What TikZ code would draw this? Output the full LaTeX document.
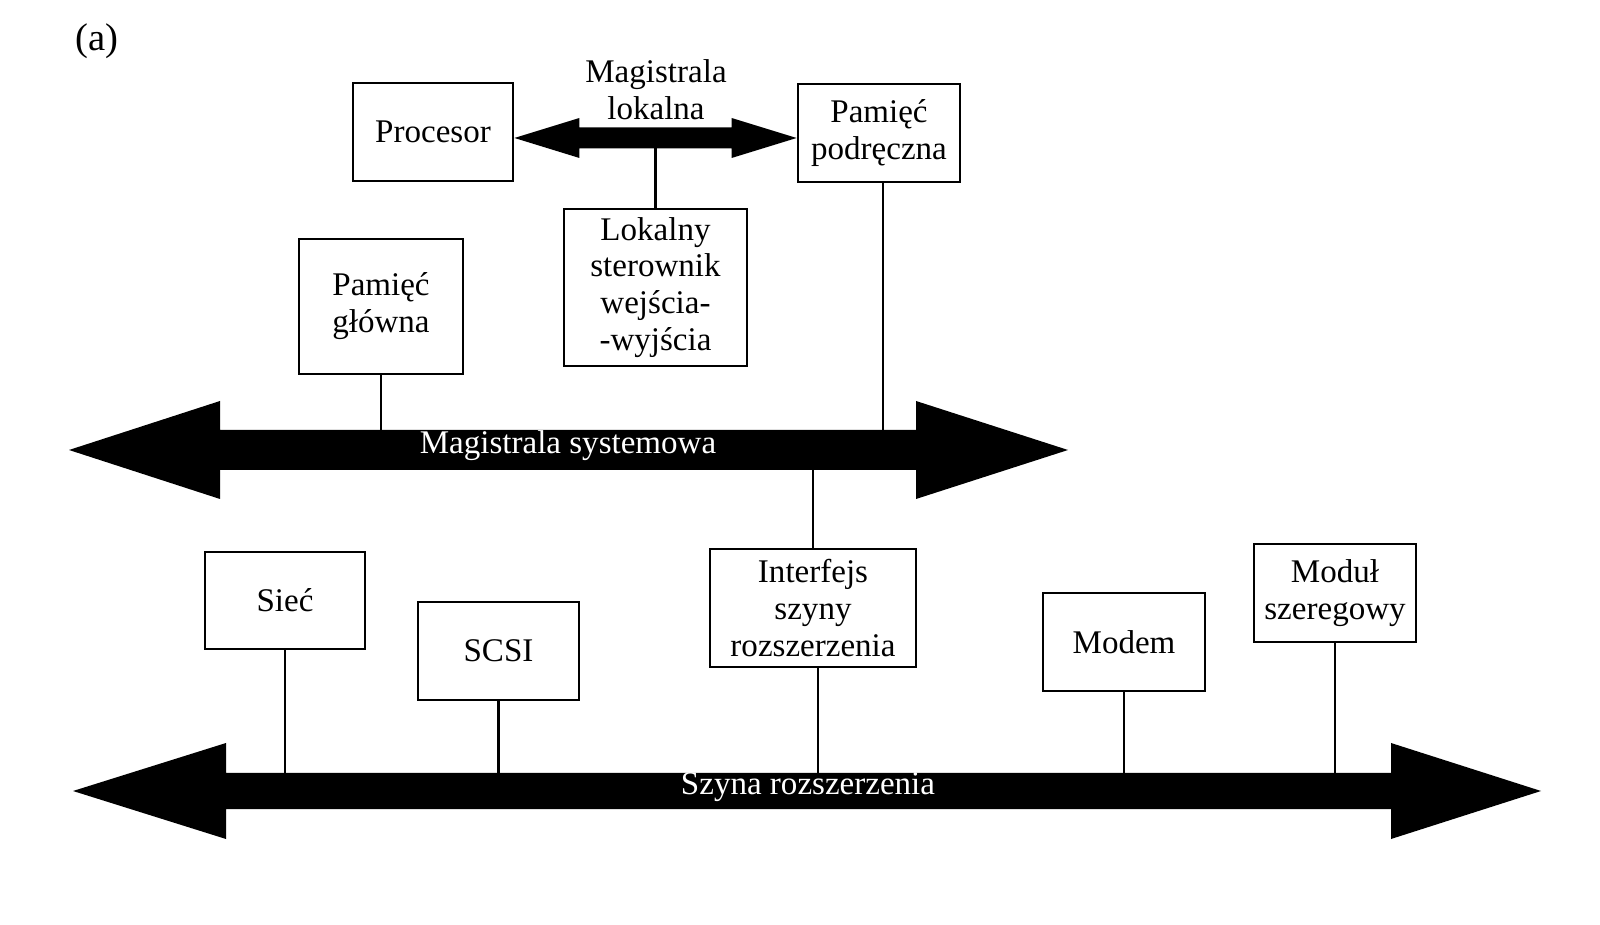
\documentclass[tikz,border=0pt]{standalone}
\usepackage{fontspec}
\setmainfont{Liberation Serif}
\usetikzlibrary{calc}

\tikzset{
	blok/.style={draw, line width=0.8pt, align=center, inner sep=0pt,
		font=\fontsize{9.4}{10.5}\selectfont},
	wire/.style={line width=0.7pt},
	buslabel/.style={text=white, inner sep=0pt, font=\fontsize{9.4}{10.5}\selectfont}
}

\begin{document}
\begin{tikzpicture}

	\useasboundingbox (0,0) rectangle (16,9.24);

	\node (lbl) at (0.97,8.83) {\fontsize{11}{12}\selectfont (a)};

	%upper blocks
	\node[blok, minimum width=1.60cm, minimum height=0.98cm] (procesor) at (4.33,7.92) {Procesor};
	\node[blok, minimum width=1.62cm, minimum height=0.98cm] (podreczna) at (8.79,7.91) {Pamięć\\podręczna};
	\node[blok, minimum width=1.83cm, minimum height=1.57cm] (lokalny) at (6.555,6.365) {Lokalny\\sterownik\\wejścia-\\-wyjścia};
	\node[blok, minimum width=1.64cm, minimum height=1.35cm] (glowna) at (3.81,6.175) {Pamięć\\główna};

	%local bus between processor and cache
	\coordinate (lokL) at ($(procesor.east)+(0,-0.06)$);
	\coordinate (lokR) at ($(podreczna.west)+(0,-0.05)$);
	\fill (lokL) -- ++(0.65,0.2) -- ++(0,-0.095)
		-- ($(lokR)+(-0.65,0.105)$) -- ++(0,0.095) -- (lokR)
		-- ++(-0.65,-0.2) -- ++(0,0.095)
		-- ($(lokL)+(0.65,-0.105)$) -- ++(0,-0.095) -- cycle;
	\coordinate (lokbot) at ($(lokL)!0.5!(lokR)+(0,-0.1)$);
	\node[font=\fontsize{9.4}{10.5}\selectfont, align=center] (loklabel) at (6.56,8.34) {Magistrala\\lokalna};
	\draw[wire] (lokalny.north) -- (lokalny.north |- lokbot);

	%system bus
	\fill (0.69,4.74) -- (2.20,5.23) -- (2.20,4.94) -- (9.16,4.94) -- (9.16,5.23) -- (10.68,4.74)
		-- (9.16,4.25) -- (9.16,4.54) -- (2.20,4.54) -- (2.20,4.25) -- cycle;
	\coordinate (systop) at (0,4.94);
	\coordinate (sysbot) at (0,4.54);
	\node[buslabel] (syslabel) at (5.68,4.78) {Magistrala systemowa};

	%lower blocks
	\node[blok, minimum width=1.60cm, minimum height=0.97cm] (siec) at (2.85,3.235) {Sieć};
	\node[blok, minimum width=1.61cm, minimum height=0.98cm] (scsi) at (4.985,2.73) {SCSI};
	\node[blok, minimum width=2.06cm, minimum height=1.18cm] (interfejs) at (8.13,3.16) {Interfejs\\szyny\\rozszerzenia};
	\node[blok, minimum width=1.62cm, minimum height=0.98cm] (modem) at (11.24,2.82) {Modem};
	\node[blok, minimum width=1.62cm, minimum height=0.98cm] (modul) at (13.35,3.31) {Moduł\\szeregowy};

	%expansion bus
	\fill (0.73,1.33) -- (2.26,1.81) -- (2.26,1.51) -- (13.91,1.51) -- (13.91,1.81) -- (15.41,1.33)
		-- (13.91,0.85) -- (13.91,1.15) -- (2.26,1.15) -- (2.26,0.85) -- cycle;
	\coordinate (exptop) at (0,1.51);
	\node[buslabel] (explabel) at (8.08,1.37) {Szyna rozszerzenia};

	%connection points slightly off centre
	\coordinate (podout) at ($(podreczna.south)+(0.04,0)$);
	\coordinate (intout) at ($(interfejs.south)+(0.05,0)$);

	%connections to the system bus
	\draw[wire] (glowna.south) -- (glowna.south |- systop);
	\draw[wire] (podout) -- (podout |- systop);
	\draw[wire] (interfejs.north) -- (interfejs.north |- sysbot);

	%connections to the expansion bus
	\draw[wire] (siec.south) -- (siec.south |- exptop);
	\draw[wire] (scsi.south) -- (scsi.south |- exptop);
	\draw[wire] (intout) -- (intout |- exptop);
	\draw[wire] (modem.south) -- (modem.south |- exptop);
	\draw[wire] (modul.south) -- (modul.south |- exptop);

\end{tikzpicture}
\end{document}
